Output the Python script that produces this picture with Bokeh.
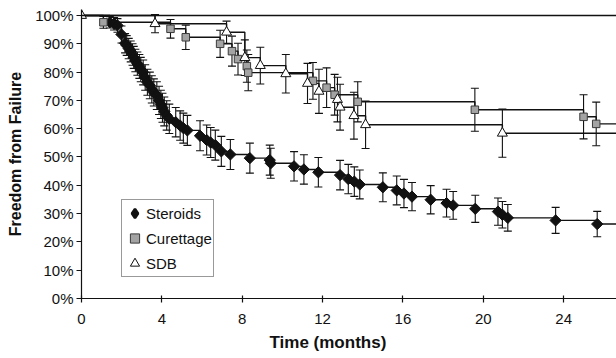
import math
from bokeh.plotting import figure
from bokeh.models import (ColumnDataSource, Whisker, TeeHead, Span, Range1d,
                          NumeralTickFormatter, FixedTicker, Legend, LegendItem, Title)
from bokeh.embed import file_html
from bokeh.resources import INLINE

# ---------------- data ----------------
steroid_t = [1.41, 1.62, 1.79, 1.99, 2.17, 2.25, 2.35, 2.45, 2.54, 2.60, 2.68, 2.78, 2.88, 2.95,
             3.07, 3.17, 3.28, 3.40, 3.50, 3.60, 3.75, 3.86, 3.95, 4.03, 4.12, 4.24, 4.37, 4.69,
             4.91, 5.07, 5.27, 5.90, 6.23, 6.43, 6.66, 6.96, 7.41, 8.38, 9.37, 9.42, 10.58, 11.07,
             11.79, 12.87, 13.28, 13.58, 13.85, 15.00, 15.69, 16.05, 16.45, 17.38, 18.17, 18.50,
             19.60, 20.73, 20.95, 21.22, 23.60, 25.67]
steroid_s = [0.976, 0.971, 0.965, 0.933, 0.902, 0.894, 0.883, 0.873, 0.862, 0.852, 0.841, 0.830,
             0.820, 0.809, 0.799, 0.781, 0.764, 0.753, 0.739, 0.728, 0.717, 0.700, 0.686, 0.674,
             0.661, 0.647, 0.635, 0.623, 0.611, 0.602, 0.594, 0.575, 0.560, 0.551, 0.542, 0.520,
             0.509, 0.496, 0.489, 0.478, 0.467, 0.456, 0.446, 0.436, 0.422, 0.413, 0.403, 0.393,
             0.382, 0.371, 0.360, 0.349, 0.337, 0.329, 0.317, 0.307, 0.296, 0.285, 0.276, 0.263]
steroid_e = [0.020, 0.022, 0.024, 0.030, 0.034, 0.035, 0.036, 0.037, 0.038, 0.039, 0.040, 0.041,
             0.042, 0.043, 0.044, 0.045, 0.046, 0.047, 0.048, 0.048, 0.049, 0.050, 0.050, 0.051,
             0.051, 0.052, 0.052, 0.052, 0.052, 0.053, 0.053, 0.053, 0.053, 0.053, 0.053, 0.053,
             0.053, 0.053, 0.053, 0.053, 0.052, 0.052, 0.052, 0.052, 0.052, 0.052, 0.051, 0.051,
             0.051, 0.050, 0.050, 0.050, 0.049, 0.049, 0.048, 0.048, 0.047, 0.047, 0.046, 0.045]

curettage_t = [1.09, 4.43, 5.19, 6.90, 7.49, 7.79, 8.23, 8.30, 11.52, 12.20, 12.60, 13.75,
               19.58, 24.99, 25.62]
curettage_s = [0.976, 0.953, 0.923, 0.900, 0.874, 0.846, 0.821, 0.798, 0.769, 0.745, 0.720,
               0.695, 0.667, 0.642, 0.617]
curettage_e = [0.021, 0.033, 0.043, 0.048, 0.053, 0.056, 0.057, 0.064, 0.065, 0.070, 0.072,
               0.071, 0.076, 0.078, 0.077]

sdb_t = [3.66, 7.22, 8.13, 8.90, 10.17, 11.25, 11.82, 12.74, 12.87, 13.56, 14.14, 20.95]
sdb_s = [0.971, 0.941, 0.851, 0.823, 0.794, 0.760, 0.732, 0.703, 0.676, 0.646, 0.614, 0.584]
sdb_e = [0.032, 0.039, 0.063, 0.065, 0.068, 0.071, 0.078, 0.079, 0.081, 0.083, 0.084, 0.085]

start_t = [0.0]
start_s = [1.0]

series_names = ["Steroids", "Curettage", "SDB"]
x_ticks = [0, 4, 8, 12, 16, 20, 24]
y_ticks = [0.0, 0.1, 0.2, 0.3, 0.4, 0.5, 0.6, 0.7, 0.8, 0.9, 1.0]

# ---------------- figure ----------------
X_END = 26.63
Y_END = 1.0212
FONT = "Liberation Sans"
INK = "#111111"

p = figure(width=616, height=358, output_backend="svg", toolbar_location=None,
           x_range=Range1d(0, X_END), y_range=Range1d(0, Y_END),
           min_border_left=81, min_border_right=0, min_border_top=9, min_border_bottom=60)
p.outline_line_color = None
p.xgrid.visible = False
p.ygrid.visible = False
p.background_fill_color = "white"
p.border_fill_color = "white"

p.add_layout(Span(location=1.0, dimension="width", line_color=INK, line_width=1.3))


def step_xy(t, s):
    return [0.0] + list(t) + [X_END], [1.0] + list(s) + [s[-1]]


def add_series(t, s, e):
    sx, sy = step_xy(t, s)
    p.step(sx, sy, mode="after", line_color=INK, line_width=1.4)
    src = ColumnDataSource(dict(t=t, s=s,
                                up=[a + b for a, b in zip(s, e)],
                                lo=[a - b for a, b in zip(s, e)]))
    w = Whisker(source=src, base="t", upper="up", lower="lo", dimension="height",
                line_color=INK, line_width=1.1,
                upper_head=TeeHead(size=8, line_color=INK, line_width=1.1),
                lower_head=TeeHead(size=8, line_color=INK, line_width=1.1))
    p.add_layout(w)
    return src


src_st = add_series(steroid_t, steroid_s, steroid_e)
src_cu = add_series(curettage_t, curettage_s, curettage_e)
src_sd = add_series(sdb_t, sdb_s, sdb_e)

r_st = p.scatter("t", "s", source=src_st, marker="square", angle=math.pi / 4, size=8,
                 fill_color=INK, line_color=INK)
r_cu = p.scatter("t", "s", source=src_cu, marker="square", size=7.5,
                 fill_color="#a3a3a3", line_color="#3a3a3a", line_width=1)
r_sd = p.scatter("t", "s", source=src_sd, marker="triangle", size=10,
                 fill_color="white", line_color=INK, line_width=1)
p.scatter(start_t, start_s, marker="triangle", size=10,
          fill_color="white", line_color=INK, line_width=1)

# legend-only diamond key (legend keys are drawn unrotated)
r_st_key = p.scatter("t", "s", source=src_st, marker="diamond", size=10,
                     fill_color=INK, line_color=INK, line_width=2.5, visible=False)

legend = Legend(items=[LegendItem(label=series_names[0], renderers=[r_st_key]),
                       LegendItem(label=series_names[1], renderers=[r_cu]),
                       LegendItem(label=series_names[2], renderers=[r_sd])],
                location=(40, 21), padding=1, spacing=1, margin=0,
                glyph_width=23, glyph_height=24, label_standoff=0, label_height=24,
                label_text_font=FONT, label_text_font_size="15px", label_text_color=INK,
                border_line_color="#333333", border_line_width=1,
                background_fill_color="white", background_fill_alpha=1.0)
p.add_layout(legend)

# ---------------- axes ----------------
p.xaxis.ticker = FixedTicker(ticks=x_ticks)
p.yaxis.ticker = FixedTicker(ticks=y_ticks)
p.yaxis.formatter = NumeralTickFormatter(format="0%")
for ax in (p.xaxis, p.yaxis):
    ax.axis_line_color = INK
    ax.axis_line_width = 1.2
    ax.major_tick_line_color = INK
    ax.major_tick_line_width = 1.2
    ax.minor_tick_line_color = None
    ax.major_label_text_font = FONT
    ax.major_label_text_font_size = "15px"
    ax.major_label_text_color = INK
p.xaxis.major_tick_in = 3
p.xaxis.major_tick_out = 4
p.xaxis.major_label_standoff = 11
p.yaxis.major_tick_in = 0
p.yaxis.major_tick_out = 5
p.yaxis.major_label_standoff = 3

p.yaxis.axis_label = "Freedom from Failure"
p.yaxis.axis_label_text_font = FONT
p.yaxis.axis_label_text_font_size = "16px"
p.yaxis.axis_label_text_font_style = "bold"
p.yaxis.axis_label_text_color = INK
p.yaxis.axis_label_standoff = 8

p.add_layout(Title(text="Time (months)", align="left", offset=188, standoff=8,
                   text_font=FONT, text_font_size="17px", text_font_style="bold",
                   text_color=INK), "below")

open("out.html", "w").write(file_html(p, INLINE))
